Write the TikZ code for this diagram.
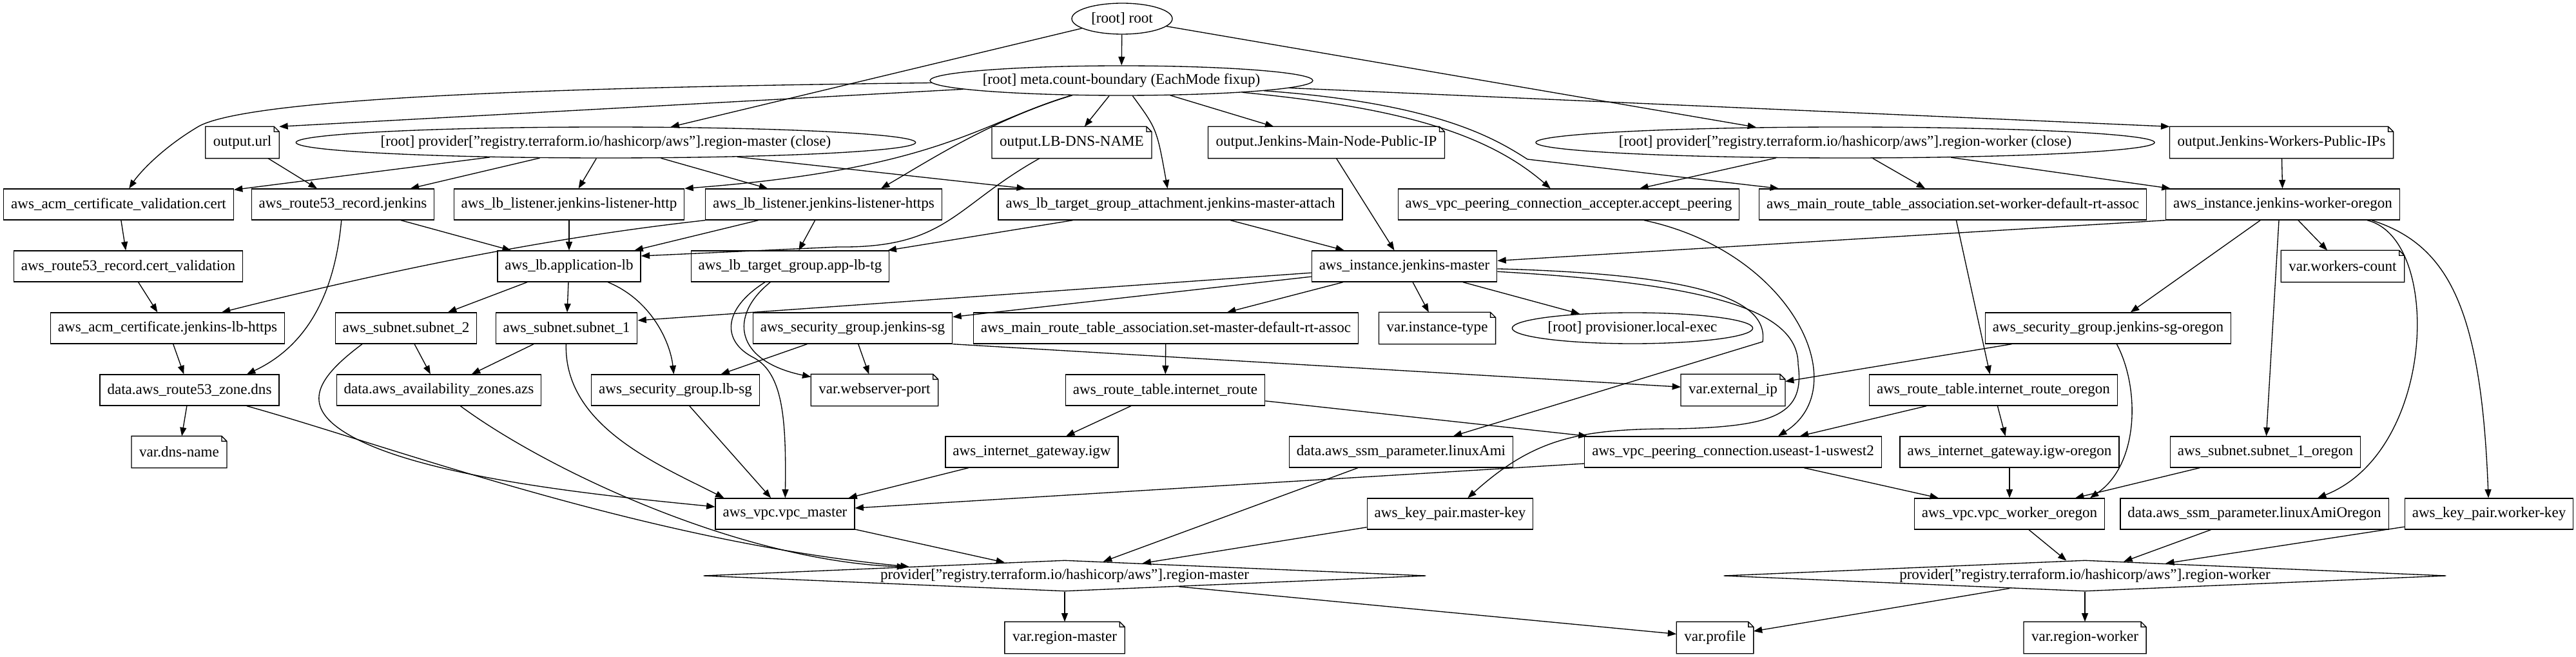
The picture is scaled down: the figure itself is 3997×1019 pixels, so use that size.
\documentclass[tikz,border=0pt]{standalone}
\usepackage{fontspec}
\setmainfont{Liberation Serif}
\usetikzlibrary{shapes.geometric,arrows.meta,calc}

\begin{document}
\begin{tikzpicture}[x=0.75pt, y=-0.75pt, line width=1pt,
    font=\fontsize{17.3}{20}\selectfont,
    res/.style={draw, rectangle, minimum height=36pt, inner xsep=8.6pt, inner ysep=0pt},
    doc/.style={rectangle, minimum height=36pt, inner xsep=8.6pt, inner ysep=0pt},
    oval/.style={draw, ellipse, minimum height=36pt, inner sep=0pt},
    prov/.style={draw, diamond, shape aspect=23.4, minimum width=841pt, minimum height=36pt, inner sep=0pt},
    dep/.style={-{Triangle[length=10pt,width=7.5pt]}}]
    \useasboundingbox (0,0) rectangle (3997,1019);

    \node[oval, minimum width=117pt] (root) at (1741,29) {[root] root};
    \node[oval, minimum width=445.5pt, minimum height=34.5pt, inner xsep=-4pt] (meta) at (1740,125) {[root] meta.count-boundary (EachMode fixup)};

    \node[doc] (url) at (376,221) {output.url};
    \node[oval, minimum width=721pt, inner xsep=-13pt] (pmc) at (940,221) {[root] provider["registry.terraform.io/hashicorp/aws"].region-master (close)};
    \node[doc] (lbdns) at (1663,221) {output.LB-DNS-NAME};
    \node[doc] (mainip) at (2058,221) {output.Jenkins-Main-Node-Public-IP};
    \node[oval, minimum width=720pt, inner xsep=-13pt] (pwc) at (2863,221) {[root] provider["registry.terraform.io/hashicorp/aws"].region-worker (close)};
    \node[doc] (workerips) at (3540,221) {output.Jenkins-Workers-Public-IPs};

    \node[res] (acmv) at (184,317) {aws\_acm\_certificate\_validation.cert};
    \node[res] (r53j) at (532,317) {aws\_route53\_record.jenkins};
    \node[res] (http) at (883,317) {aws\_lb\_listener.jenkins-listener-http};
    \node[res] (https) at (1278,317) {aws\_lb\_listener.jenkins-listener-https};
    \node[res] (tga) at (1816,317) {aws\_lb\_target\_group\_attachment.jenkins-master-attach};
    \node[res] (accp) at (2434,317) {aws\_vpc\_peering\_connection\_accepter.accept\_peering};
    \node[res] (wrt) at (3030,317) {aws\_main\_route\_table\_association.set-worker-default-rt-assoc};
    \node[res] (worker) at (3542,317) {aws\_instance.jenkins-worker-oregon};

    \node[res] (r53cv) at (199,413) {aws\_route53\_record.cert\_validation};
    \node[res] (lb) at (883,413) {aws\_lb.application-lb};
    \node[res] (tg) at (1226,413) {aws\_lb\_target\_group.app-lb-tg};
    \node[res] (master) at (2179,413) {aws\_instance.jenkins-master};
    \node[doc] (wcount) at (3635,413) {var.workers-count};

    \node[res] (acm) at (260,509) {aws\_acm\_certificate.jenkins-lb-https};
    \node[res] (sub2) at (630,509) {aws\_subnet.subnet\_2};
    \node[res] (sub1) at (879,509) {aws\_subnet.subnet\_1};
    \node[res] (sg) at (1323,509) {aws\_security\_group.jenkins-sg};
    \node[res] (mrt) at (1809,509) {aws\_main\_route\_table\_association.set-master-default-rt-assoc};
    \node[doc] (itype) at (2230,509) {var.instance-type};
    \node[oval, minimum width=280pt] (lexec) at (2533,509) {[root] provisioner.local-exec};
    \node[res] (sgo) at (3271,509) {aws\_security\_group.jenkins-sg-oregon};

    \node[res] (zone) at (294,605) {data.aws\_route53\_zone.dns};
    \node[res] (azs) at (681,605) {data.aws\_availability\_zones.azs};
    \node[res] (lbsg) at (1048,605) {aws\_security\_group.lb-sg};
    \node[doc] (wport) at (1357,605) {var.webserver-port};
    \node[res] (rt) at (1808,605) {aws\_route\_table.internet\_route};
    \node[doc] (extip) at (2689,605) {var.external\_ip};
    \node[res] (rto) at (3093,605) {aws\_route\_table.internet\_route\_oregon};

    \node[doc] (dns) at (278,701) {var.dns-name};
    \node[res] (igw) at (1601,701) {aws\_internet\_gateway.igw};
    \node[res] (ami) at (2174,701) {data.aws\_ssm\_parameter.linuxAmi};
    \node[res] (peer) at (2689,701) {aws\_vpc\_peering\_connection.useast-1-uswest2};
    \node[res] (igwo) at (3118,701) {aws\_internet\_gateway.igw-oregon};
    \node[res] (sub1o) at (3515,701) {aws\_subnet.subnet\_1\_oregon};

    \node[res] (vpcm) at (1218,797) {aws\_vpc.vpc\_master};
    \node[res] (mkey) at (2250,797) {aws\_key\_pair.master-key};
    \node[res] (vpco) at (3118,797) {aws\_vpc.vpc\_worker\_oregon};
    \node[res] (amio) at (3498,797) {data.aws\_ssm\_parameter.linuxAmiOregon};
    \node[res] (wkey) at (3862,797) {aws\_key\_pair.worker-key};

    \node[prov] (pm) at (1652,893) {provider["registry.terraform.io/hashicorp/aws"].region-master};
    \node[prov] (pw) at (3235,893) {provider["registry.terraform.io/hashicorp/aws"].region-worker};

    \node[doc] (regm) at (1652,989) {var.region-master};
    \node[doc] (profile) at (2661,989) {var.profile};
    \node[doc] (regw) at (3235,989) {var.region-worker};

    \foreach \nd in {url,lbdns,mainip,workerips,wcount,itype,wport,extip,dns,regm,profile,regw}
        \draw (\nd.north west) -- ([xshift=-6pt]\nd.north east) -- ([yshift=-6pt]\nd.north east) -- (\nd.south east) -- (\nd.south west) -- cycle
              ([xshift=-6pt]\nd.north east) |- ([yshift=-6pt]\nd.north east);

    \foreach \tgt in {meta,pmc,pwc} \draw[dep] (root) -- (\tgt);
    \foreach \tgt in {lbdns,mainip} \draw[dep] (meta) -- (\tgt);
    \draw[dep] (meta) -- (url.north east);
    \draw[dep] (meta) -- (workerips.north west);
    \draw[dep] (meta) .. controls (1795,200) .. (tga);
    \draw[dep] (meta) .. controls (900,135) and (400,150) .. (310,195) .. controls (250,230) and (215,270) .. (acmv);
    \draw[dep] (meta) .. controls (1520,190) and (1460,262) .. (http.north east);
    \draw[dep] (meta) .. controls (1540,185) and (1440,250) .. ($(https.north)+(89,0)$);
    \draw[dep] (meta) .. controls (2150,165) and (2300,200) .. (accp);
    \draw[dep] (meta) .. controls (2230,160) and (2320,215) .. (2370,247) -- ($(wrt.north west)+(31,0)$);

    \foreach \tgt in {acmv,r53j,http,https,tga} \draw[dep] (pmc) -- (\tgt);
    \foreach \tgt in {accp,wrt,worker} \draw[dep] (pwc) -- (\tgt);
    \draw[dep] (url) -- (r53j);
    \draw[dep] ($(lbdns.south)+(-50,0)$) .. controls (1480,320) and (1470,385) .. (1300,383) -- ($(lb.east)+(0,-16)$);
    \draw[dep] (mainip) -- (master);
    \draw[dep] (workerips) -- (worker);

    \draw[dep] (acmv) -- (r53cv);
    \draw[dep] (r53j) -- (lb);
    \draw[dep] (r53j) .. controls (520,450) and (480,535) .. ($(zone.north)+(89,0)$);
    \draw[dep] (http) -- (lb);
    \foreach \tgt in {lb,tg} \draw[dep] (https) -- (\tgt);
    \draw[dep] (https.south west) .. controls (930,360) and (700,395) .. ($(acm.north)+(84,0)$);
    \foreach \tgt in {tg,master} \draw[dep] (tga) -- (\tgt);
    \draw[dep] (accp) .. controls (2780,390) and (2880,600) .. ($(peer.north)+(70,0)$);
    \draw[dep] (wrt) -- (rto);

    \draw[dep] (r53cv) -- (acm);
    \draw[dep] (acm) -- (zone);
    \draw[dep] (zone) -- (dns);
    \foreach \tgt in {sub2,sub1} \draw[dep] (lb) -- (\tgt);
    \draw[dep] (lb) .. controls (1010,465) and (1040,530) .. (lbsg);
    \draw[dep] (tg) .. controls (1130,490) and (1140,560) .. (wport);
    \draw[dep] (tg) .. controls (1120,480) and (1120,530) .. (1170,555) .. controls (1215,580) and (1220,650) .. (vpcm);

    \draw[dep] (master) -- ($(sub1.east)+(0,-12)$);
    \foreach \tgt in {sg,mrt,itype,lexec} \draw[dep] (master) -- (\tgt);
    \draw[dep] (master) .. controls (2620,425) and (2745,460) .. (2735,530) -- (ami);
    \draw[dep] (master) .. controls (2650,440) and (2790,480) .. (2790,565) .. controls (2800,640) and (2760,662) .. (2600,665) .. controls (2450,665) and (2380,680) .. (mkey);

    \draw[dep] (worker.south west) -- (master);
    \foreach \tgt in {sgo,wcount} \draw[dep] (worker) -- (\tgt);
    \draw[dep] ($(worker.south)+(-6,0)$) -- (sub1o);
    \draw[dep] ($(worker.south)+(131,0)$) .. controls (3790,370) and (3780,700) .. ($(amio.north)+(98,0)$);
    \draw[dep] ($(worker.south)+(138,0)$) .. controls (3800,380) and (3850,480) .. (wkey);

    \draw[dep] (sub2) -- (azs);
    \draw[dep] ($(sub2.south)+(-68,0)$) .. controls (500,580) and (470,620) .. (520,660) .. controls (620,740) and (950,770) .. (vpcm);
    \draw[dep] (sub1) -- (azs);
    \draw[dep] (sub1) .. controls (875,660) and (1020,720) .. ($(vpcm.north west)+(14,0)$);
    \foreach \tgt in {lbsg,wport} \draw[dep] (sg) -- (\tgt);
    \draw[dep] (sg.south east) -- (extip);
    \draw[dep] (mrt) -- (rt);
    \draw[dep] (sgo) -- (extip);
    \draw[dep] (sgo) .. controls (3320,600) and (3320,720) .. ($(vpco.north)+(125,0)$);

    \draw[dep] (zone) .. controls (600,690) and (1000,840) .. ($(pm.north)!0.43!(pm.west)$);
    \draw[dep] (azs) .. controls (850,730) and (1150,870) .. ($(pm.north)!0.44!(pm.west)$);
    \draw[dep] (lbsg) -- (vpcm);
    \foreach \tgt in {igw,peer} \draw[dep] (rt) -- (\tgt);
    \foreach \tgt in {peer,igwo} \draw[dep] (rto) -- (\tgt);

    \draw[dep] (igw) -- (vpcm);
    \draw[dep] ($(peer.west)+(0,18)$) -- ($(vpcm.east)+(0,-9)$);
    \draw[dep] (peer) -- (vpco);
    \draw[dep] (igwo) -- (vpco);
    \draw[dep] (sub1o) -- (vpco);
    \draw[dep] (ami) -- (pm);

    \foreach \src in {vpcm,mkey} \draw[dep] (\src) -- (pm);
    \foreach \src in {vpco,amio,wkey} \draw[dep] (\src) -- (pw);
    \foreach \tgt in {regm,profile} \draw[dep] (pm) -- (\tgt);
    \foreach \tgt in {profile,regw} \draw[dep] (pw) -- (\tgt);
\end{tikzpicture}
\end{document}
